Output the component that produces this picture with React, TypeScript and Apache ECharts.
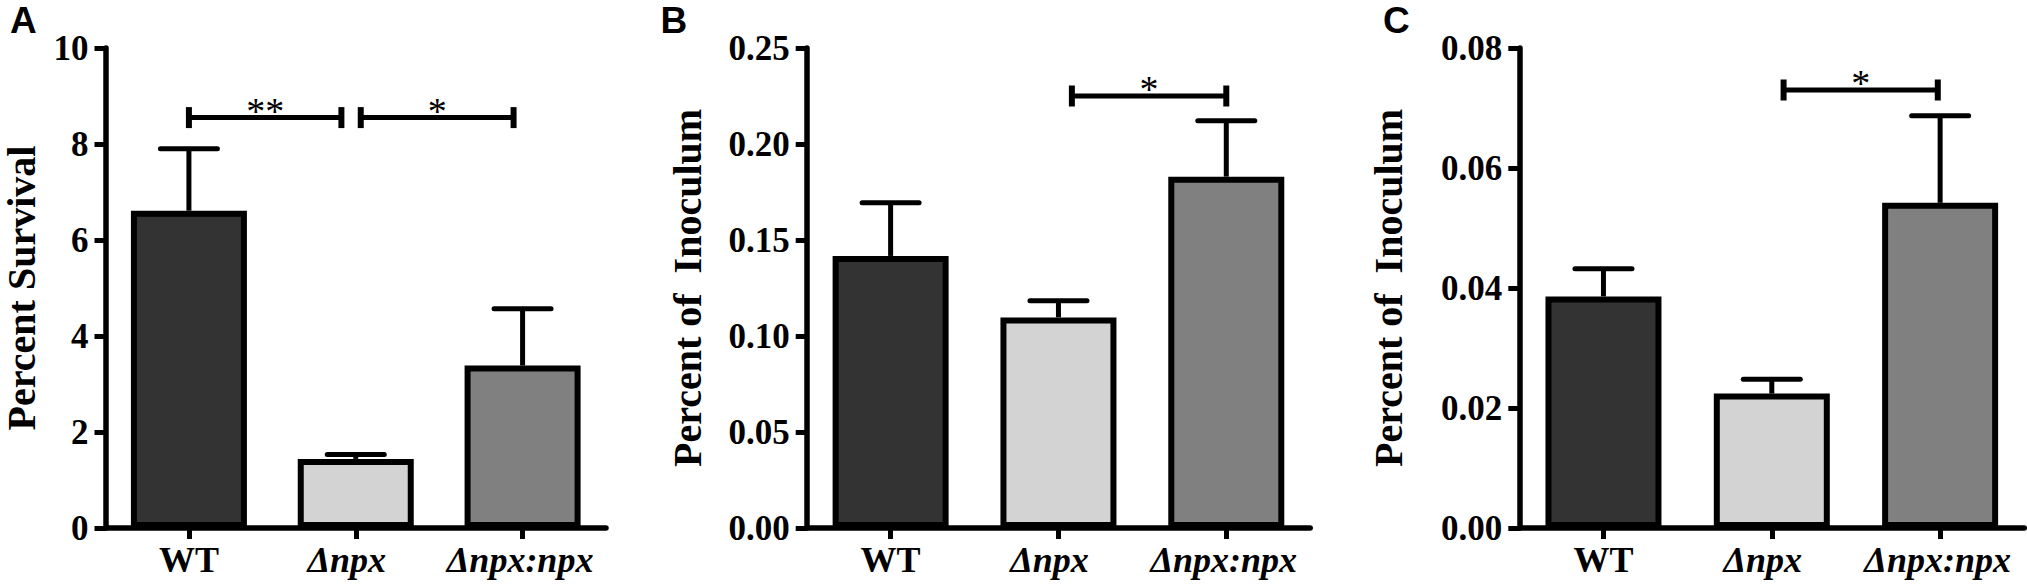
import React, { useEffect, useRef } from 'react';
import * as echarts from 'echarts';

// ---------- data ----------
const categories = ['WT', 'Δnpx', 'Δnpx:npx'];
const barColors = ['#333333', '#d3d3d3', '#808080'];

const survivalMean = [6.61, 1.44, 3.385];
const survivalSem = [1.29, 0.09, 1.185];

const inoculumBMean = [0.1417, 0.1097, 0.183];
const inoculumBSem = [0.0277, 0.0086, 0.0291];

const inoculumCMean = [0.0386, 0.0224, 0.0542];
const inoculumCSem = [0.0046, 0.0024, 0.0145];

const yMaxes = [10, 0.25, 0.08];
const yIntervals = [2, 0.05, 0.02];
const yDecimals = [0, 2, 2];
const yNames = ['Percent Survival', 'Percent of  Inoculum', 'Percent of  Inoculum'];
const panelLetters = ['A', 'B', 'C'];

const bracketsA = [
  { from: 0, to: 0.914, y: 8.55, label: '**' },
  { from: 1.03, to: 1.946, y: 8.55, label: '*' },
];
const bracketsB = [{ from: 1.08, to: 2.0, y: 0.225, label: '*' }];
const bracketsC = [{ from: 1.07, to: 1.986, y: 0.073, label: '*' }];

const means = [survivalMean, inoculumBMean, inoculumCMean];
const sems = [survivalSem, inoculumBSem, inoculumCSem];
const brackets = [bracketsA, bracketsB, bracketsC];

// ---------- layout ----------
const grids = [
  { left: 104, top: 48, width: 502, height: 480 },
  { left: 806.7, top: 48, width: 503.5, height: 480 },
  { left: 1519.3, top: 48, width: 505, height: 480 },
];
const nameGaps = [64.5, 99, 111];
const letterPos = [
  { x: 10, y: 2 },
  { x: 660.5, y: 2 },
  { x: 1383, y: 2 },
];

const SERIF = "'Liberation Serif', 'Times New Roman', serif";
const SANS = "'Liberation Sans', Arial, sans-serif";

function buildOption() {
  const xAxis: any[] = [];
  const yAxis: any[] = [];
  const series: any[] = [];

  for (let p = 0; p < 3; p++) {
    xAxis.push({
      type: 'category',
      gridIndex: p,
      data: categories.map((c, i) => ({
        value: c,
        textStyle:
          i === 0
            ? {}
            : { fontStyle: 'italic', padding: i === 1 ? [0, 18, 0, 0] : [0, 5, 0, 0] },
      })),
      axisLine: { show: true, onZero: false, lineStyle: { color: '#000', width: 5.5 } },
      axisTick: { show: true, alignWithLabel: true, length: 11, lineStyle: { color: '#000', width: 5 } },
      axisLabel: {
        interval: 0,
        color: '#000',
        fontFamily: SERIF,
        fontWeight: 'bold',
        fontSize: 36,
        margin: 14,
      },
      splitLine: { show: false },
    });
  }
  for (let p = 0; p < 3; p++) {
    xAxis.push({ type: 'value', gridIndex: p, min: -0.5, max: 2.5, show: false });
  }

  for (let p = 0; p < 3; p++) {
    const dec = yDecimals[p];
    yAxis.push({
      type: 'value',
      gridIndex: p,
      min: 0,
      max: yMaxes[p],
      interval: yIntervals[p],
      name: yNames[p],
      nameLocation: 'middle',
      nameGap: nameGaps[p],
      nameTextStyle: { color: '#000', fontFamily: SERIF, fontWeight: 'bold', fontSize: 40 },
      axisLine: { show: true, onZero: false, lineStyle: { color: '#000', width: 5.5 } },
      axisTick: { show: true, length: 11, lineStyle: { color: '#000', width: 5 } },
      axisLabel: {
        color: '#000',
        fontFamily: SERIF,
        fontWeight: 'bold',
        fontSize: 35,
        margin: 17,
        formatter: (v: number) => v.toFixed(dec),
      },
      splitLine: { show: false },
    });

    series.push({
      type: 'bar',
      xAxisIndex: p,
      yAxisIndex: p,
      barWidth: 116,
      silent: true,
      itemStyle: { borderColor: '#000', borderWidth: 6 },
      data: means[p].map((v, i) => ({ value: v, itemStyle: { color: barColors[i] } })),
      z: 2,
    });

    series.push({
      type: 'custom',
      xAxisIndex: p,
      yAxisIndex: p,
      silent: true,
      z: 3,
      data: means[p].map((m, i) => [i, m, m + sems[p][i]]),
      renderItem: (params: any, api: any) => {
        const base = api.coord([api.value(0), api.value(1)]);
        const top = api.coord([api.value(0), api.value(2)]);
        return {
          type: 'group',
          children: [
            {
              type: 'line',
              shape: { x1: base[0], y1: base[1], x2: top[0], y2: top[1] },
              style: { stroke: '#000', lineWidth: 5 },
            },
            {
              type: 'line',
              shape: { x1: top[0] - 28.5, y1: top[1], x2: top[0] + 28.5, y2: top[1] },
              style: { stroke: '#000', lineWidth: 5, lineCap: 'round' },
            },
          ],
        };
      },
    });

    const br = brackets[p];
    series.push({
      type: 'custom',
      xAxisIndex: p + 3,
      yAxisIndex: p,
      silent: true,
      z: 4,
      data: br.map((b) => [b.from, b.to, b.y]),
      encode: { x: [0, 1], y: 2 },
      renderItem: (params: any, api: any) => {
        const a = api.coord([api.value(0), api.value(2)]);
        const b = api.coord([api.value(1), api.value(2)]);
        const label = br[params.dataIndex].label;
        return {
          type: 'group',
          children: [
            {
              type: 'line',
              shape: { x1: a[0], y1: a[1], x2: b[0], y2: b[1] },
              style: { stroke: '#000', lineWidth: 5 },
            },
            {
              type: 'line',
              shape: { x1: a[0], y1: a[1] - 10.5, x2: a[0], y2: a[1] + 10.5 },
              style: { stroke: '#000', lineWidth: 6 },
            },
            {
              type: 'line',
              shape: { x1: b[0], y1: b[1] - 10.5, x2: b[0], y2: b[1] + 10.5 },
              style: { stroke: '#000', lineWidth: 6 },
            },
            {
              type: 'text',
              style: {
                text: label,
                x: (a[0] + b[0]) / 2,
                y: a[1] - 7,
                fill: '#000',
                fontFamily: SERIF,
                fontSize: 38,
                fontWeight: 'normal',
                align: 'center',
                verticalAlign: 'middle',
                textAlign: 'center',
                textVerticalAlign: 'middle',
              },
            },
          ],
        };
      },
    });
  }

  const graphic = panelLetters.map((t, i) => ({
    type: 'text',
    left: letterPos[i].x,
    top: letterPos[i].y,
    style: {
      text: t,
      fill: '#000',
      fontFamily: SANS,
      fontWeight: 'bold',
      fontSize: 37,
    },
  }));

  return {
    animation: false,
    backgroundColor: '#ffffff',
    grid: grids.map((g) => ({ ...g, containLabel: false })),
    xAxis,
    yAxis,
    series,
    graphic,
  };
}

export default function App() {
  const ref = useRef<HTMLDivElement>(null);
  useEffect(() => {
    document.body.style.margin = '0';
    if (!ref.current) return;
    const chart = echarts.init(ref.current, undefined, { renderer: 'svg' });
    chart.setOption(buildOption() as any);
    return () => chart.dispose();
  }, []);
  return (
    <div
      ref={ref}
      style={{ position: 'fixed', left: 0, top: 0, width: 2027, height: 585, background: '#fff' }}
    />
  );
}
